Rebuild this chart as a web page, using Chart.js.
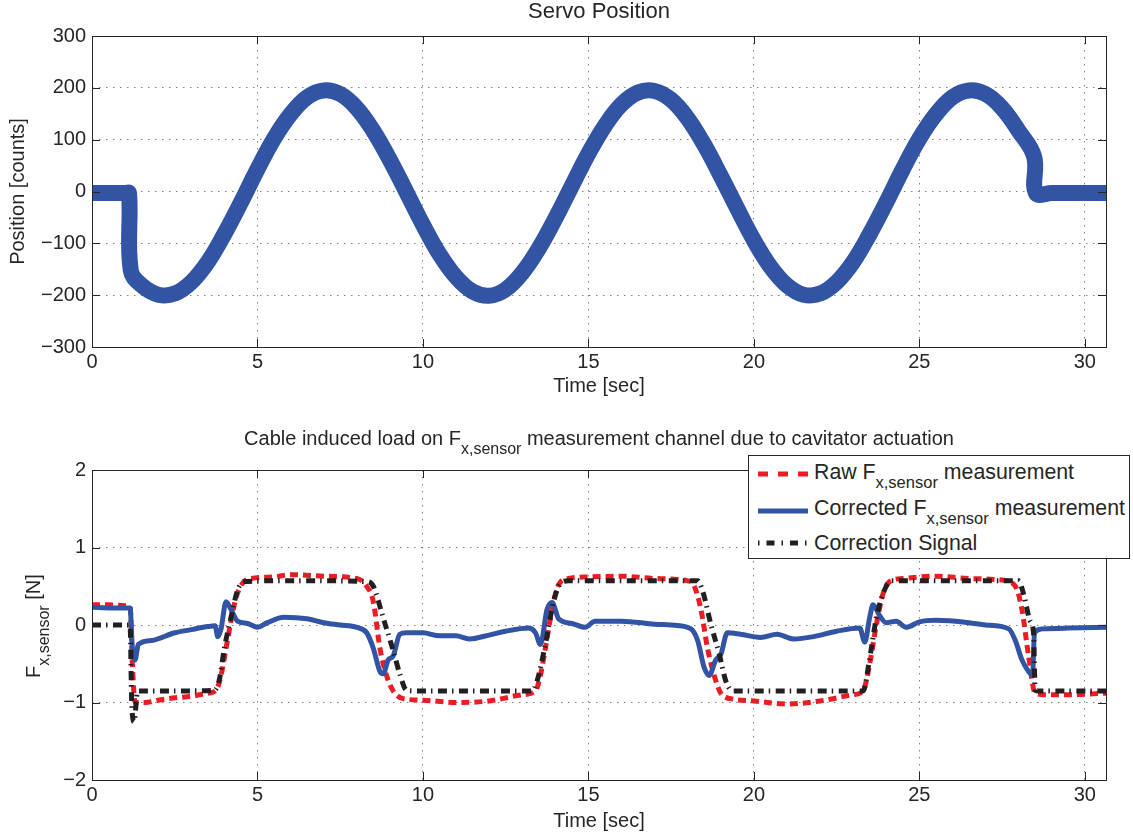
<!DOCTYPE html>
<html>
<head>
<meta charset="utf-8">
<script src="https://cdn.jsdelivr.net/npm/chart.js@4/dist/chart.umd.min.js"></script>
<style>
  body { margin: 0; background: #fff; font-family: 'Liberation Sans', Arial, sans-serif; color: #262626; }
  #page { position: relative; width: 1133px; height: 837px; overflow: hidden; }
  .wrap { position: absolute; left: 0; width: 1133px; }
  .lbl { position: absolute; white-space: nowrap; font-size: 20px; line-height: 24px; }
  .sub { font-size: 16px; position: relative; top: 9px; }
  #legend { position: absolute; left: 748px; top: 455px; width: 382px; height: 104px; box-sizing: border-box;
            border: 1px solid #262626; background: #fff; }
  .row { position: absolute; left: 814px; white-space: nowrap; font-size: 21.3px; line-height: 24px; }
  .row .sub { font-size: 16.5px; }
  .sample { position: absolute; left: 758px; }
</style>
</head>
<body>
<div id="page">
  <div class="wrap" style="top:0;height:400px"><canvas id="servo"></canvas></div>
  <div class="wrap" style="top:410px;height:427px"><canvas id="load"></canvas></div>

  <div class="lbl" style="left:92px;width:1014px;top:-2px;text-align:center;font-size:22px;line-height:26px">Servo Position</div>
  <div class="lbl" style="left:92px;width:1014px;top:426px;text-align:center">Cable induced load on F<span class="sub">x,sensor</span> measurement channel due to cavitator actuation</div>
  <div class="lbl" style="left:21px;top:678px;transform-origin:0 0;transform:rotate(-90deg)">F<span class="sub">x,sensor</span> [N]</div>

  <div id="legend"></div>
  <svg class="sample" style="top:469px" width="50" height="10"><line x1="0" y1="5" x2="50" y2="5" stroke="#ec1c24" stroke-width="5" stroke-dasharray="10 10"/></svg>
  <div class="row" style="top:460px">Raw F<span class="sub">x,sensor</span> measurement</div>
  <svg class="sample" style="top:506px" width="50" height="10"><line x1="0" y1="5" x2="50" y2="5" stroke="#3254a4" stroke-width="5"/></svg>
  <div class="row" style="top:496px">Corrected F<span class="sub">x,sensor</span> measurement</div>
  <svg class="sample" style="top:538px" width="50" height="10"><line x1="0" y1="5" x2="50" y2="5" stroke="#231f20" stroke-width="5" stroke-dasharray="1.5 7 8 7"/></svg>
  <div class="row" style="top:531px">Correction Signal</div>
</div>

<script>
// servo position [counts] vs time [sec]
const T_POS = [0, 0.5, 1.0, 1.12, 1.17, 1.5, 2.0, 2.5, 3.0, 3.5, 4.0, 4.5, 5.0, 5.5, 6.0, 6.5, 7.0, 7.5, 8.0, 8.5,
  9.0, 9.5, 10.0, 10.5, 11.0, 11.5, 12.0, 12.5, 13.0, 13.5, 14.0, 14.5, 15.0, 15.5, 16.0, 16.5, 17.0, 17.5, 18.0, 18.5,
  19.0, 19.5, 20.0, 20.5, 21.0, 21.5, 22.0, 22.5, 23.0, 23.5, 24.0, 24.5, 25.0, 25.5, 26.0, 26.5, 27.0, 27.5, 28.0,
  28.47, 28.52, 29.0, 29.5, 30.0, 30.64];
const POS = [-3, -3, -3, -3, -152, -181, -199, -197, -175, -136, -82, -21, 43, 102, 149, 182, 195, 188, 161, 117,
  61, -1, -64, -121, -165, -193, -201, -189, -157, -110, -52, 11, 73, 127, 168, 191, 194, 177, 141, 90,
  30, -33, -94, -145, -181, -199, -197, -175, -136, -82, -21, 43, 102, 149, 182, 195, 188, 161, 117,
  67, -3, -3, -3, -3, -3];

// raw F_x,sensor measurement [N]
const T_RAW = [0, 0.5, 1.0, 1.15, 1.22, 1.3, 1.6, 2.0, 2.5, 3.0, 3.5, 3.75, 3.9, 4.05, 4.2, 4.35, 4.55, 4.8, 5.5, 6.0,
  7.0, 8.0, 8.3, 8.5, 8.7, 8.9, 9.1, 9.4, 10.0, 11.0, 12.0, 13.0, 13.4, 13.55, 13.7, 13.9, 14.1, 14.4, 15.0, 16.0,
  17.0, 18.0, 18.2, 18.4, 18.6, 18.8, 19.0, 19.3, 20.0, 21.0, 22.0, 23.0, 23.3, 23.5, 23.7, 23.9, 24.1, 24.5, 25.5, 26.5,
  27.5, 27.9, 28.1, 28.3, 28.5, 28.8, 29.5, 30.64];
const RAW = [0.26, 0.26, 0.25, 0.24, -0.5, -1.0, -1.0, -0.97, -0.94, -0.92, -0.88, -0.84, -0.65, -0.3, 0.05, 0.35, 0.54, 0.6, 0.62, 0.65,
  0.63, 0.6, 0.5, 0.3, -0.3, -0.65, -0.85, -0.95, -0.97, -1.0, -0.98, -0.9, -0.85, -0.65, -0.3, 0.2, 0.52, 0.6, 0.62, 0.63,
  0.6, 0.57, 0.5, 0.2, -0.3, -0.65, -0.88, -0.95, -0.98, -1.02, -0.98, -0.9, -0.85, -0.5, 0.0, 0.4, 0.56, 0.6, 0.63, 0.6,
  0.58, 0.5, 0.2, -0.4, -0.88, -0.9, -0.9, -0.88];

// corrected F_x,sensor measurement [N]
const T_COR = [0, 0.6, 1.15, 1.22, 1.3, 1.4, 1.8, 2.5, 3.0, 3.5, 3.72, 3.8, 3.9, 4.05, 4.2, 4.4, 4.7, 5.0, 5.3, 5.8,
  6.5, 7.0, 7.5, 8.0, 8.3, 8.5, 8.7, 8.8, 8.95, 9.1, 9.3, 9.5, 10.0, 10.5, 11.0, 11.4, 12.0, 12.5, 13.2, 13.4,
  13.55, 13.75, 13.9, 14.1, 14.5, 14.9, 15.2, 16.0, 17.0, 17.5, 18.1, 18.3, 18.5, 18.65, 18.85, 19.0, 19.2, 19.6, 20.2, 20.7,
  21.2, 21.8, 22.5, 23.2, 23.35, 23.5, 23.6, 23.8, 24.0, 24.3, 24.6, 25.0, 25.5, 26.5, 27.0, 27.7, 27.9, 28.1, 28.3, 28.42,
  28.48, 28.7, 29.5, 30.64];
const COR = [0.23, 0.22, 0.22, -0.3, -0.45, -0.25, -0.2, -0.1, -0.06, -0.02, -0.01, -0.15, -0.05, 0.3, 0.2, 0.05, 0.02, -0.03, 0.03, 0.1,
  0.08, 0.03, 0.0, -0.03, -0.1, -0.3, -0.6, -0.63, -0.45, -0.4, -0.12, -0.1, -0.1, -0.14, -0.14, -0.18, -0.13, -0.08, -0.04, -0.1,
  -0.25, 0.2, 0.29, 0.08, 0.02, -0.03, 0.05, 0.05, 0.01, 0.0, -0.05, -0.2, -0.55, -0.65, -0.45, -0.38, -0.1, -0.12, -0.16, -0.12,
  -0.18, -0.15, -0.08, -0.04, -0.22, 0.1, 0.26, 0.12, 0.03, 0.05, -0.03, 0.04, 0.06, 0.03, 0.0, -0.05, -0.2, -0.45, -0.6, -0.65,
  -0.1, -0.05, -0.04, -0.03];

// correction signal [N]
const T_SIG = [0, 0.6, 1.15, 1.2, 1.27, 1.38, 2.0, 3.0, 3.7, 3.85, 4.0, 4.2, 4.4, 4.6, 5.5, 7.0, 8.3, 8.5, 8.8, 9.1,
  9.3, 9.5, 9.7, 11.5, 13.3, 13.45, 13.7, 13.95, 14.15, 14.4, 16.0, 18.3, 18.45, 18.7, 18.95, 19.15, 19.35, 21.0, 23.3, 23.5,
  23.7, 24.0, 24.2, 26.0, 28.0, 28.15, 28.35, 28.45, 28.5, 28.6, 30.64];
const SIG = [0, 0, 0, -1.0, -1.25, -0.85, -0.85, -0.85, -0.84, -0.7, -0.3, 0.1, 0.45, 0.56, 0.57, 0.57, 0.56, 0.5, 0.09, -0.33,
  -0.63, -0.84, -0.85, -0.85, -0.85, -0.72, -0.25, 0.31, 0.53, 0.57, 0.57, 0.57, 0.44, 0.01, -0.37, -0.72, -0.85, -0.85, -0.85, -0.43,
  0.09, 0.5, 0.57, 0.57, 0.57, 0.4, 0.05, -0.1, -0.84, -0.85, -0.85];

const X_MAX = 30.64;
const FONT = "'Liberation Sans', Arial, sans-serif";
const TXT = '#262626';
const BLUE = '#3254a4', RED = '#ec1c24', BLACK = '#231f20';

const pts = (t, v) => t.map((x, i) => ({ x, y: v[i] }));
const minus = v => String(v).replace('-', '\u2212');

// matlab style box with inward ticks on all four sides
const boxPlugin = {
  id: 'box',
  afterDraw(chart) {
    const { ctx, chartArea: a, scales: { x, y } } = chart;
    ctx.save();
    ctx.strokeStyle = TXT;
    ctx.lineWidth = 1;
    ctx.beginPath();
    x.ticks.forEach(t => {
      const px = Math.round(x.getPixelForValue(t.value)) + 0.5;
      ctx.moveTo(px, a.bottom); ctx.lineTo(px, a.bottom - 8);
      ctx.moveTo(px, a.top); ctx.lineTo(px, a.top + 8);
    });
    y.ticks.forEach(t => {
      const py = Math.round(y.getPixelForValue(t.value)) + 0.5;
      ctx.moveTo(a.left, py); ctx.lineTo(a.left + 8, py);
      ctx.moveTo(a.right, py); ctx.lineTo(a.right - 8, py);
    });
    ctx.stroke();
    ctx.strokeRect(Math.round(a.left) + 0.5, Math.round(a.top) + 0.5, Math.round(a.width), Math.round(a.height));
    ctx.restore();
  }
};

function xAxis(height, titlePad) {
  return {
    type: 'linear', min: 0, max: X_MAX,
    ticks: { stepSize: 5, includeBounds: false, padding: 3, maxRotation: 0, color: TXT, font: { family: FONT, size: 20 } },
    grid: { color: '#808080', drawTicks: false },
    border: { display: false, dash: [1.5, 5.5] },
    title: { display: true, text: 'Time [sec]', color: TXT, font: { family: FONT, size: 20 }, padding: { top: 0, bottom: titlePad } },
    afterFit: s => { s.height = height; }
  };
}

function yAxis(min, max, step, title) {
  return {
    min, max,
    ticks: { stepSize: step, padding: 6, color: TXT, font: { family: FONT, size: 20 }, callback: minus },
    grid: { color: '#808080', drawTicks: false },
    border: { display: false, dash: [1.5, 5.5] },
    title: { display: !!title, text: title || '', color: TXT, font: { family: FONT, size: 20 }, padding: { top: 6, bottom: 0 } },
    afterFit: s => { s.width = 92; }
  };
}

const common = {
  responsive: true,
  maintainAspectRatio: false,
  animation: false,
  events: [],
  elements: { point: { radius: 0 }, line: { borderCapStyle: 'butt' } },
};

new Chart(document.getElementById('servo'), {
  type: 'line',
  data: {
    datasets: [{ data: pts(T_POS, POS), borderColor: BLUE, borderWidth: 16, borderJoinStyle: 'round', tension: 0.4 }]
  },
  options: {
    ...common,
    layout: { padding: { left: 0, right: 27, top: 36, bottom: 0 } },
    plugins: { legend: { display: false }, tooltip: { enabled: false } },
    scales: { x: xAxis(53, 2), y: yAxis(-300, 300, 100, 'Position [counts]') }
  },
  plugins: [boxPlugin]
});

new Chart(document.getElementById('load'), {
  type: 'line',
  data: {
    datasets: [
      { data: pts(T_RAW, RAW), borderColor: RED, borderWidth: 5, borderDash: [8, 5], cubicInterpolationMode: 'monotone', order: 2 },
      { data: pts(T_COR, COR), borderColor: BLUE, borderWidth: 5, cubicInterpolationMode: 'monotone', order: 1 },
      { data: pts(T_SIG, SIG), borderColor: BLACK, borderWidth: 5, borderDash: [9, 5, 1.5, 5.5], cubicInterpolationMode: 'monotone', order: 0 }
    ]
  },
  options: {
    ...common,
    layout: { padding: { left: 0, right: 27, top: 60, bottom: 0 } },
    plugins: { legend: { display: false }, tooltip: { enabled: false } },
    scales: { x: xAxis(57, 4), y: yAxis(-2, 2, 1, '') }
  },
  plugins: [boxPlugin]
});
</script>
</body>
</html>
